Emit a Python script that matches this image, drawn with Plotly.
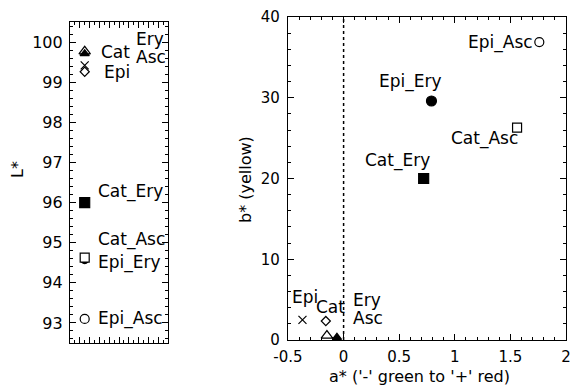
import plotly.graph_objects as go

# ---------------- data ----------------
compounds = ["Cat", "Epi", "Ery", "Asc", "Cat_Ery", "Cat_Asc", "Epi_Ery", "Epi_Asc"]
L_values = [99.26, 99.42, 99.71, 99.77, 96.0, 94.63, 94.58, 93.1]
a_values = [-0.16, -0.37, -0.06, -0.15, 0.72, 1.56, 0.79, 1.76]
b_values = [2.35, 2.5, 0.33, 0.55, 20.0, 26.3, 29.6, 36.9]

left_y_ticks = [93, 94, 95, 96, 97, 98, 99, 100]
right_x_ticks = [-0.5, 0, 0.5, 1, 1.5, 2]
right_x_ticklabels = ["-0.5", "0", "0.5", "1", "1.5", "2"]
right_y_ticks = [0, 10, 20, 30, 40]

# ---------------- styles ----------------
symbols = {
    "Cat": "diamond-open", "Epi": "x-thin-open", "Ery": "triangle-up", "Asc": "triangle-up-open",
    "Cat_Ery": "square", "Cat_Asc": "square", "Epi_Ery": "circle", "Epi_Asc": "circle-open",
}
fills = {"Cat_Asc": "white"}
sizes = {"Cat": 7, "Epi": 8, "Ery": 8, "Asc": 10, "Cat_Ery": 10, "Cat_Asc": 9,
         "Epi_Ery": 10, "Epi_Asc": 9}
left_sizes = dict(sizes, Epi_Ery=8)
# draw order (later on top)
order = ["Epi_Ery", "Cat_Asc", "Cat_Ery", "Epi_Asc", "Cat", "Epi", "Ery", "Asc"]

# label offsets in pixels (xanchor, xshift, yshift)
right_lbl = {
    "Epi_Asc": ("right", -4, 0), "Epi_Ery": ("center", -21, 19),
    "Cat_Asc": ("right", 3, -11), "Cat_Ery": ("center", -26, 18),
    "Epi": ("center", 3, 23), "Cat": ("center", 5, 14),
    "Ery": ("left", 14, 37), "Asc": ("left", 24, 18),
}
left_lbl = {
    "Cat": ("left", 14, 20), "Epi": ("left", 17, -7),
    "Ery": ("left", 49, 15), "Asc": ("left", 49, -6),
    "Cat_Ery": ("left", 11, 11), "Cat_Asc": ("left", 11, 18),
    "Epi_Ery": ("left", 11, -3), "Epi_Asc": ("left", 11, 0),
}
LEFT_COLUMN_X = 0.15
FONT = "DejaVu Sans"
W, H = 571, 387

fig = go.Figure()
idx = {c: i for i, c in enumerate(compounds)}

for c in order:
    i = idx[c]
    col = fills.get(c, "black")
    mk = dict(symbol=symbols[c], size=sizes[c], color=col,
              line=dict(color="black", width=1.2))
    mk_left = dict(mk, size=left_sizes[c])
    fig.add_trace(go.Scatter(x=[LEFT_COLUMN_X], y=[L_values[i]], mode="markers",
                             marker=mk_left, xaxis="x", yaxis="y", showlegend=False,
                             hoverinfo="text", text=[c]))
    fig.add_trace(go.Scatter(x=[a_values[i]], y=[b_values[i]], mode="markers",
                             marker=mk, xaxis="x2", yaxis="y2", showlegend=False,
                             hoverinfo="text", text=[c]))

# dashed zero line on right panel
fig.add_shape(type="line", xref="x2", yref="y2", x0=0, x1=0, y0=0, y1=40,
              line=dict(color="black", width=1.5, dash="3px,3px"))

ann = []
for c in compounds:
    i = idx[c]
    xa, xs, ys = right_lbl[c]
    ann.append(dict(x=a_values[i], y=b_values[i], xref="x2", yref="y2", text=c,
                    showarrow=False, xanchor=xa, yanchor="middle", xshift=xs, yshift=ys,
                    font=dict(family=FONT, size=17, color="black")))
    xa, xs, ys = left_lbl[c]
    ann.append(dict(x=LEFT_COLUMN_X, y=L_values[i], xref="x", yref="y", text=c,
                    showarrow=False, xanchor=xa, yanchor="middle", xshift=xs, yshift=ys,
                    font=dict(family=FONT, size=17, color="black")))

# axis titles
ann.append(dict(x=17 / W, y=(H - 170) / H, xref="paper", yref="paper", text="L*",
                xanchor="center", yanchor="middle",
                showarrow=False, textangle=-90, font=dict(family=FONT, size=16, color="black")))
ann.append(dict(x=245 / W, y=(H - 180) / H, xref="paper", yref="paper", text="b* (yellow)",
                xanchor="center", yanchor="middle",
                showarrow=False, textangle=-90, font=dict(family=FONT, size=16, color="black")))
ann.append(dict(x=419 / W, y=(H - 376) / H, xref="paper", yref="paper",
                text="a* ('-' green to '+' red)", xanchor="center", yanchor="middle",
                showarrow=False, font=dict(family=FONT, size=16, color="black")))

axis_common = dict(showgrid=False, zeroline=False, showline=True, linecolor="black",
                   linewidth=1.2, mirror="allticks", ticks="inside", tickcolor="black",
                   tickwidth=1, ticklen=6, automargin=False)

fig.update_layout(
    width=W, height=H, margin=dict(l=0, r=0, t=0, b=0, autoexpand=False),
    paper_bgcolor="white", plot_bgcolor="white",
    font=dict(family=FONT, color="black"),
    annotations=ann,
    xaxis=dict(domain=[70 / W, 168 / W], range=[0, 1], anchor="y",
               tickvals=[0.1 * k for k in range(1, 10)], showticklabels=False,
               minor=dict(dtick=0.05, tick0=0, ticks="inside", ticklen=3, tickcolor="black"),
               **axis_common),
    yaxis=dict(domain=[(H - 343) / H, (H - 22) / H], range=[92.5, 100.5], anchor="x",
               tickvals=left_y_ticks, ticktext=[str(v) for v in left_y_ticks],
               tickfont=dict(family=FONT, size=16), ticklabelstandoff=3,
               minor=dict(dtick=0.2, tick0=0, ticks="inside", ticklen=3, tickcolor="black"),
               **axis_common),
    xaxis2=dict(domain=[288 / W, 566 / W], range=[-0.5, 2], anchor="y2",
                tickvals=right_x_ticks, ticktext=right_x_ticklabels,
                tickfont=dict(family=FONT, size=15), ticklabelstandoff=3,
                minor=dict(dtick=0.1, tick0=0, ticks="inside", ticklen=3, tickcolor="black"),
                **axis_common),
    yaxis2=dict(domain=[(H - 340) / H, (H - 17) / H], range=[0, 40], anchor="x2",
                tickvals=right_y_ticks, ticktext=[str(v) for v in right_y_ticks],
                tickfont=dict(family=FONT, size=15), ticklabelstandoff=4,
                minor=dict(dtick=2, tick0=0, ticks="inside", ticklen=3, tickcolor="black"),
                **axis_common),
)

fig.write_html("out.html", config={"displayModeBar": False},
               post_script="document.body.style.margin='0';document.body.style.overflow='hidden';")
